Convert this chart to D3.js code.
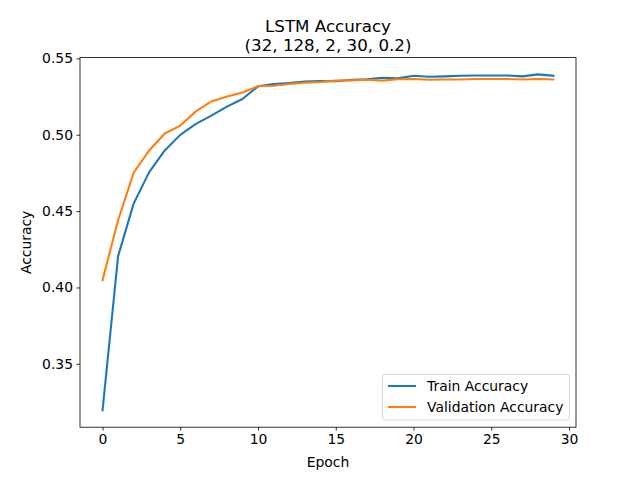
<!DOCTYPE html>
<html>
<head>
<meta charset="utf-8">
<script src="https://cdn.jsdelivr.net/npm/d3@7"></script>
<style>
  body { margin: 0; background: #fff; }
  text { font-family: "DejaVu Sans", sans-serif; fill: #000; }
</style>
</head>
<body>
<div id="chart"></div>
<script>
// Epoch-by-epoch accuracy
const epochs = d3.range(0, 30);
const trainAcc = [0.3195, 0.4205, 0.4549, 0.4755, 0.4897, 0.4999, 0.5071, 0.5125, 0.5184, 0.5234,
  0.5317, 0.5332, 0.5339, 0.5349, 0.5352, 0.5350, 0.5360, 0.5363, 0.5373, 0.5369,
  0.5386, 0.5380, 0.5382, 0.5386, 0.5388, 0.5388, 0.5388, 0.5382, 0.5395, 0.5386];
const valAcc = [0.4048, 0.4440, 0.4751, 0.4897, 0.5008, 0.5060, 0.5153, 0.5218, 0.5250, 0.5277,
  0.5317, 0.5321, 0.5332, 0.5340, 0.5345, 0.5354, 0.5356, 0.5360, 0.5354, 0.5363,
  0.5365, 0.5360, 0.5362, 0.5362, 0.5365, 0.5365, 0.5365, 0.5362, 0.5365, 0.5362];
const seriesNames = ['Train Accuracy', 'Validation Accuracy'];
const seriesColors = ['#1f77b4', '#ff7f0e'];
const xTicks = [0, 5, 10, 15, 20, 25, 30];
const yTicks = [0.35, 0.40, 0.45, 0.50, 0.55];

const width = 640, height = 480;
const margin = { left: 80, right: 64, top: 57.6, bottom: 52.8 };
const plotW = width - margin.left - margin.right;
const plotH = height - margin.top - margin.bottom;

const svg = d3.select('#chart').append('svg')
  .attr('width', width)
  .attr('height', height);

// matplotlib-style 5% padding on the data range
const pad = (lo, hi) => { const d = (hi - lo) * 0.05; return [lo - d, hi + d]; };
const allY = trainAcc.concat(valAcc);

const x = d3.scaleLinear()
  .domain(pad(d3.min(epochs), d3.max(epochs)))
  .range([margin.left, margin.left + plotW]);
const y = d3.scaleLinear()
  .domain(pad(d3.min(allY), d3.max(allY)))
  .range([margin.top + plotH, margin.top]);

// Axes
const xAxis = svg.append('g')
  .attr('transform', `translate(0,${margin.top + plotH})`)
  .call(d3.axisBottom(x).tickValues(xTicks).tickSize(3.5).tickPadding(3.5).tickFormat(d3.format('d')));
const yAxis = svg.append('g')
  .attr('transform', `translate(${margin.left},0)`)
  .call(d3.axisLeft(y).tickValues(yTicks).tickSize(3.5).tickPadding(3.5).tickFormat(d3.format('.2f')));

[xAxis, yAxis].forEach(a => {
  a.select('.domain').remove();
  a.selectAll('.tick line').attr('stroke', '#000').attr('stroke-width', 0.8);
  a.selectAll('.tick text')
    .style('font-family', '"DejaVu Sans", sans-serif')
    .style('font-size', '13.9px')
    .attr('fill', '#000');
});

// Lines
const line = d3.line().x((d, i) => x(epochs[i])).y(d => y(d));
[trainAcc, valAcc].forEach((s, i) => {
  svg.append('path')
    .datum(s)
    .attr('fill', 'none')
    .attr('stroke', seriesColors[i])
    .attr('stroke-width', 2.1)
    .attr('stroke-linejoin', 'round')
    .attr('stroke-linecap', 'square')
    .attr('d', line);
});

// Frame
svg.append('rect')
  .attr('x', margin.left).attr('y', margin.top)
  .attr('width', plotW).attr('height', plotH)
  .attr('fill', 'none').attr('stroke', '#000').attr('stroke-width', 0.8);

// Titles
svg.append('text')
  .attr('x', margin.left + plotW / 2).attr('y', 32)
  .attr('text-anchor', 'middle').style('font-size', '16.7px')
  .text('LSTM Accuracy');
svg.append('text')
  .attr('x', margin.left + plotW / 2).attr('y', 51)
  .attr('text-anchor', 'middle').style('font-size', '16.7px')
  .text('(32, 128, 2, 30, 0.2)');
svg.append('text')
  .attr('x', margin.left + plotW / 2).attr('y', 467)
  .attr('text-anchor', 'middle').style('font-size', '13.9px')
  .text('Epoch');
svg.append('text')
  .attr('transform', `translate(31,${margin.top + plotH / 2}) rotate(-90)`)
  .attr('text-anchor', 'middle').style('font-size', '13.9px')
  .text('Accuracy');

// Legend
const legend = svg.append('g');
legend.append('rect')
  .attr('x', 382.5).attr('y', 374.5)
  .attr('width', 187).attr('height', 45.5)
  .attr('rx', 2.5)
  .attr('fill', '#fff').attr('fill-opacity', 0.8)
  .attr('stroke', '#ccc').attr('stroke-width', 0.8);
seriesNames.forEach((name, i) => {
  const cy = 386 + i * 21;
  legend.append('line')
    .attr('x1', 388).attr('x2', 416)
    .attr('y1', cy).attr('y2', cy)
    .attr('stroke', seriesColors[i]).attr('stroke-width', 2.1);
  legend.append('text')
    .attr('x', 427).attr('y', cy + 5)
    .style('font-size', '13.9px')
    .text(name);
});
</script>
</body>
</html>
